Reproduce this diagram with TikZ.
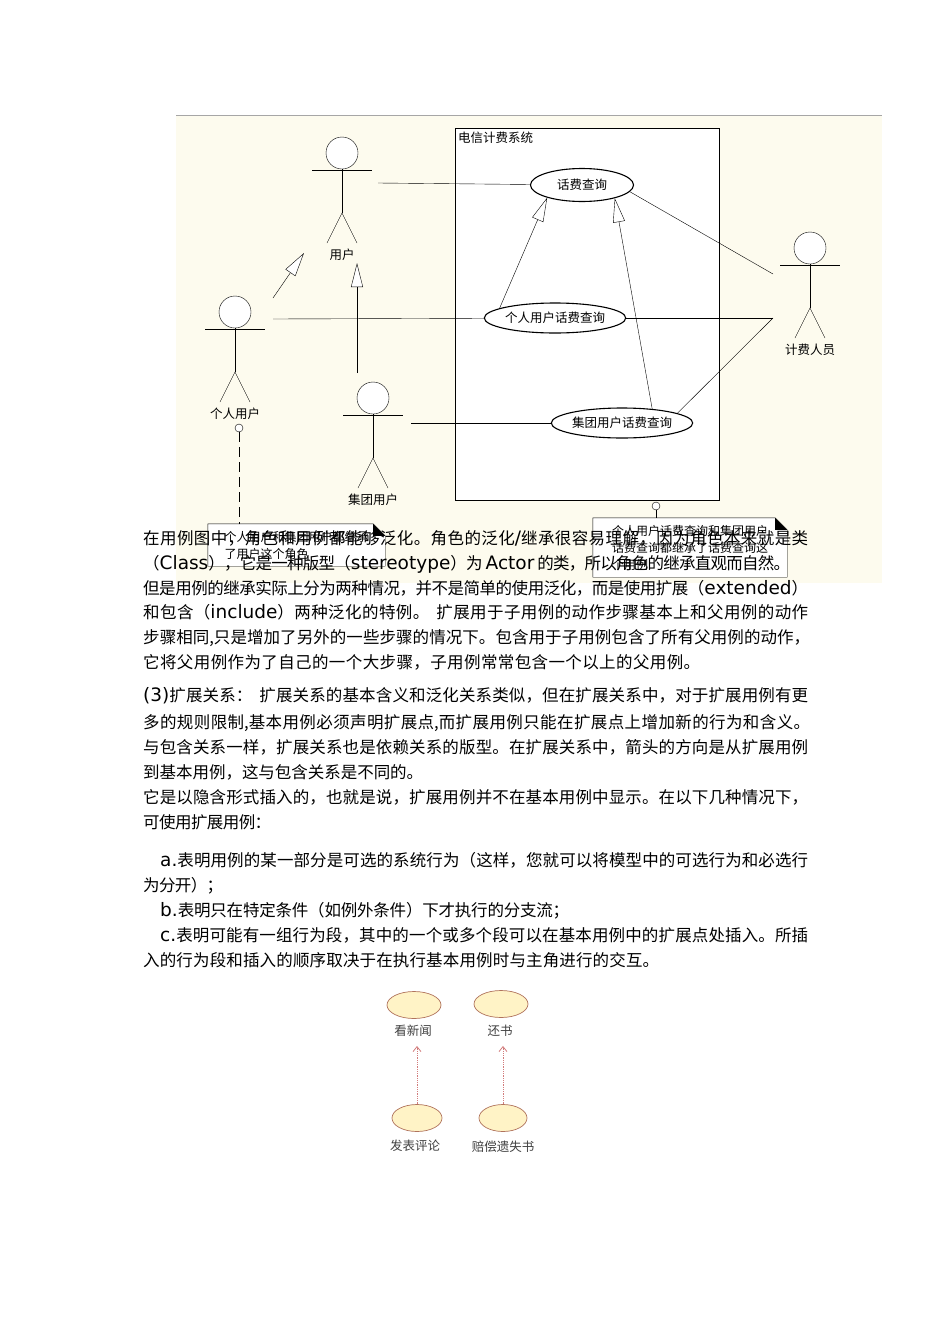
\documentclass[tikz,border=0pt]{standalone}
\usepackage{fontspec}
\setmainfont{Noto Sans CJK SC}
\newfontfamily\lat{DejaVu Sans}
\usetikzlibrary{shapes.geometric,arrows.meta,positioning,calc}
\definecolor{paper}{HTML}{FDFBEE}
\definecolor{usefill}{HTML}{FFF3C6}
\definecolor{usedraw}{HTML}{B0735C}
\definecolor{depline}{HTML}{D27C7C}
% stretchable glue between Chinese characters, so that each line can be set to its width
\newXeTeXintercharclass\hanclass
\count255="3000
\loop
  \XeTeXcharclass\count255=\hanclass
  \ifnum\count255<"9FFF \advance\count255 by 1 \repeat
\count255="FF00
\loop
  \XeTeXcharclass\count255=\hanclass
  \ifnum\count255<"FFEF \advance\count255 by 1 \repeat
\XeTeXinterchartoks\hanclass\hanclass={\hskip 0pt plus 5pt minus 1.5pt\relax}
\XeTeXinterchartokenstate=1
\newcommand\jline[2]{\hbox to #1pt{#2}}
\newcommand\la[1]{{\lat\fontsize{18.5}{20}\selectfont #1}}
\pgfdeclarelayer{bg}
\pgfsetlayers{bg,main}
\newcommand\foldnote[1]{%
  \begin{pgfonlayer}{bg}
  \filldraw[fill=white] (#1.north west) -- ([xshift=-12pt]#1.north east) -- ([yshift=-12pt]#1.north east)
    -- (#1.south east) -- (#1.south west) -- cycle;
  \fill ([xshift=-12pt]#1.north east) -- ([yshift=-12pt]#1.north east) -- ([xshift=-12pt,yshift=-12pt]#1.north east) -- cycle;
  \end{pgfonlayer}}
\tikzset{
  actor/.pic={
    \draw[fill=white] (0,0) circle[radius=16pt];
    \draw (-30,17) -- (30,17);
    \draw (0,16) -- (0,60);
    \draw (-15,90) -- (0,60) -- (15,90);
    \node[lbl] (-name) at (0,102) {\tikzpictext};
  },
}
\begin{document}
\begin{tikzpicture}[x=1pt, y=-1pt, line width=0.9pt,
  lbl/.style={font=\fontsize{12.5}{14}\selectfont, inner sep=1pt},
  uc/.style={ellipse, draw, fill=white, line width=1.1pt, inner sep=0, font=\fontsize{12.5}{14}\selectfont},
  gen/.style={-{Triangle[length=24pt, width=12pt, fill=white]}},
  sysbox/.style={draw, fill=white, anchor=north west, minimum width=264pt, minimum height=372pt, inner sep=0},
  note/.style={inner sep=0, align=left, font=\fontsize{12}{17}\selectfont},
  lolli/.style={circle, draw, fill=white, minimum size=8pt, inner sep=0},
  longdash/.style={dash pattern=on 10pt off 5pt},
  txt/.style={anchor=base west, inner sep=0, font=\fontsize{16.5}{20}\selectfont},
  uc2/.style={ellipse, draw=usedraw, fill=usefill, minimum width=54pt, minimum height=27pt, inner sep=0, line width=0.7pt},
  lbl2/.style={font=\fontsize{12.5}{14}\selectfont, text=black!75, inner sep=1pt},
  dep/.style={densely dotted, draw=depline, line width=0.8pt, -{Straight Barb[length=5pt, width=8pt]}, shorten >=8pt}]
  \useasboundingbox (0,0) rectangle (950,1344);

  % diagram background
  \begin{pgfonlayer}{bg}
    \fill[paper] (176,115) rectangle (882,583);
    \draw[gray!70] (176,115) -- (882,115);
  \end{pgfonlayer}

  % system boundary
  \node[sysbox] (sys) at (455,128) {};
  \node[lbl, anchor=north west] (sysname) at ([xshift=2pt,yshift=-3pt]sys.north west) {电信计费系统};

  % use cases
  \node[uc, minimum width=103pt, minimum height=33pt] (fq) at (582,185) {话费查询};
  \node[uc, minimum width=124pt, minimum height=30pt] (gq) at (555,318) {个人用户话费查询};
  \node[uc, minimum width=129pt, minimum height=30pt] (tq) at (622,423) {集团用户话费查询};

  % actors
  \pic[pic text=用户] (usr) at (342,153) {actor};
  \pic[pic text=个人用户] (grh) at (235,312) {actor};
  \pic[pic text=集团用户] (jth) at (373,398) {actor};
  \pic[pic text=计费人员] (jfr) at (810,248) {actor};

  \coordinate (usr-in) at (378,183);
  \coordinate (usr-g1) at (304,253);
  \coordinate (usr-g2) at (357,263);
  \coordinate (grh-out) at (273,319);
  \coordinate (grh-g) at (273,298);
  \coordinate (jth-out) at (411,423);
  \coordinate (jth-g) at (357,373);
  \coordinate (jfr-a) at (773,274);
  \coordinate (jfr-b) at (773,318);

  % associations
  \draw (usr-in) -- (fq);
  \draw (grh-out) -- (gq);
  \draw (jth-out) -- (tq);
  \draw (fq.-8) -- (jfr-a);
  \draw (gq) -- (jfr-b);
  \draw (tq.10) -- (jfr-b);

  % generalizations
  \draw[gen] (grh-g) -- (usr-g1);
  \draw[gen] (jth-g) -- (usr-g2);
  \draw[gen] (gq.170) -- (fq.200);
  \draw[gen] (tq.25) -- (fq.-22);

  % notes
  \node[note, minimum width=177pt, minimum height=42pt] (n1) at (296.5,545) {个人用户和集团用户都继承\\了用户这个角色};
  \node[note, minimum width=194pt, minimum height=59pt] (n2) at (690,547.5) {个人用户话费查询和集团用户\\话费查询都继承了话费查询这\\个用例};
  \foldnote{n1}
  \foldnote{n2}
  \node[lolli] (c1) at (239,428) {};
  \draw[longdash] (c1) -- (c1 |- n1.north);
  \node[lolli] (c2) at (656,506) {};
  \draw (c2) -- (c2 |- n2.north);

  % body text
  \node[txt] (t1) at (143,544) {\jline{665}{在用例图中，角色和用例都能够泛化。角色的泛化\la{/}继承很容易理解，因为角色本来就是类}};
  \node[txt] (t2) at (143,569) {\jline{647}{（\la{Class}），它是一种版型（\la{stereotype}）为 \la{Actor} 的类，所以角色的继承直观而自然。}};
  \node[txt] (t3) at (143,594) {\jline{665}{但是用例的继承实际上分为两种情况，并不是简单的使用泛化，而是使用扩展（\la{extended}）}};
  \node[txt] (t4) at (143,618) {\jline{665}{和包含（\la{include}）两种泛化的特例。\hspace{7pt}扩展用于子用例的动作步骤基本上和父用例的动作}};
  \node[txt] (t5) at (143,643) {\jline{667}{步骤相同,只是增加了另外的一些步骤的情况下。包含用于子用例包含了所有父用例的动作，}};
  \node[txt] (t6) at (143,668) {\jline{557}{它将父用例作为了自己的一个大步骤，子用例常常包含一个以上的父用例。}};

  \node[txt] (u1) at (143,701) {\jline{665}{\la{(3)}扩展关系：\hspace{7pt}扩展关系的基本含义和泛化关系类似，但在扩展关系中，对于扩展用例有更}};
  \node[txt] (u2) at (143,728) {\jline{667}{多的规则限制,基本用例必须声明扩展点,而扩展用例只能在扩展点上增加新的行为和含义。}};
  \node[txt] (u3) at (143,753) {\jline{665}{与包含关系一样，扩展关系也是依赖关系的版型。在扩展关系中，箭头的方向是从扩展用例}};
  \node[txt] (u4) at (143,778) {\jline{280}{到基本用例，这与包含关系是不同的。}};
  \node[txt] (u5) at (143,803) {\jline{665}{它是以隐含形式插入的，也就是说，扩展用例并不在基本用例中显示。在以下几种情况下，}};
  \node[txt] (u6) at (143,828) {\jline{128}{可使用扩展用例：}};
  \node[txt] (v1) at (160,866) {\jline{648}{\la{a.}表明用例的某一部分是可选的系统行为（这样，您就可以将模型中的可选行为和必选行}};
  \node[txt] (v2) at (143,891) {\jline{80}{为分开）；}};
  \node[txt] (v3) at (160,916) {\jline{409}{\la{b.}表明只在特定条件（如例外条件）下才执行的分支流；}};
  \node[txt] (v4) at (160,941) {\jline{648}{\la{c.}表明可能有一组行为段，其中的一个或多个段可以在基本用例中的扩展点处插入。所插}};
  \node[txt] (v5) at (143,966) {\jline{516}{入的行为段和插入的顺序取决于在执行基本用例时与主角进行的交互。}};

  % extend example
  \node[uc2] (kxw) at (414,1005) {};
  \node[lbl2] (kxwl) at (413,1031) {看新闻};
  \node[uc2] (hs) at (501,1004) {};
  \node[lbl2] (hsl) at (500,1031) {还书};
  \node[uc2, minimum width=50pt] (fbpl) at (417,1118) {};
  \node[lbl2] (fbpll) at (415,1146) {发表评论};
  \node[uc2, minimum width=48pt] (pcys) at (503,1118) {};
  \node[lbl2] (pcysl) at (503,1147) {赔偿遗失书};
  \draw[dep] (fbpl) -- (fbpl |- kxwl.south);
  \draw[dep] (pcys) -- (pcys |- hsl.south);
\end{tikzpicture}
\end{document}
